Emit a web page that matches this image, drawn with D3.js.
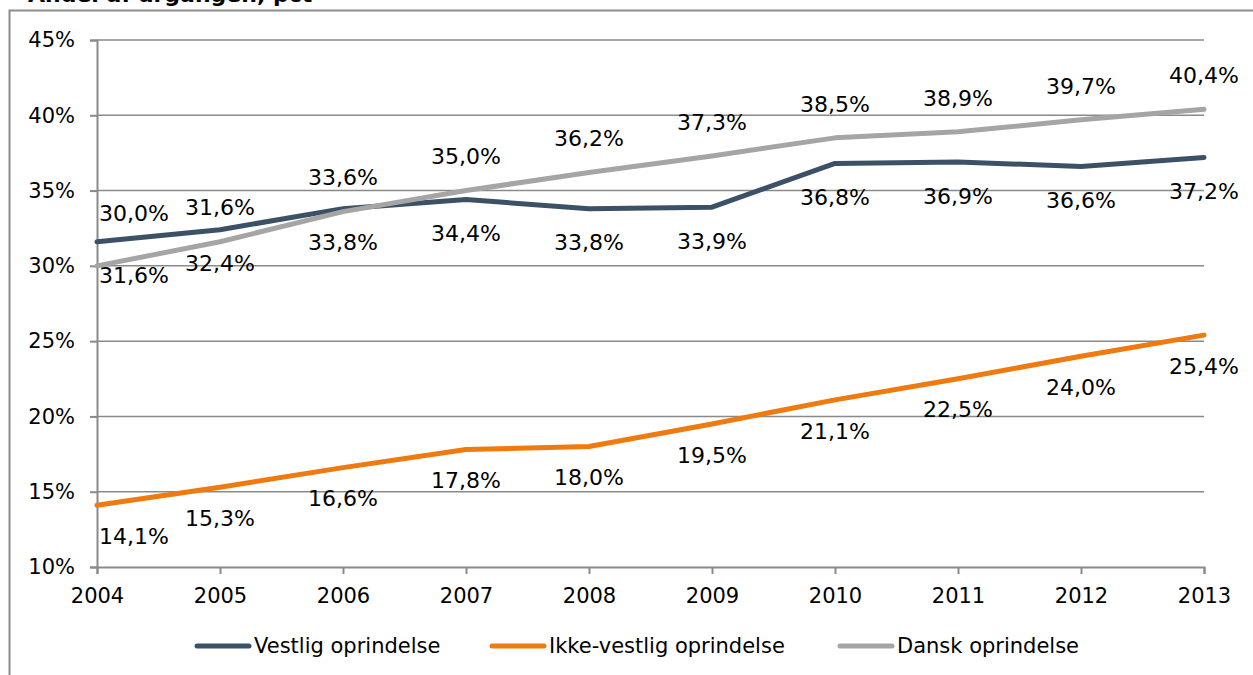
<!DOCTYPE html>
<html>
<head>
<meta charset="utf-8">
<script src="https://cdn.jsdelivr.net/npm/d3@7"></script>
<style>
  body { margin: 0; background: #fff; }
  svg text { font-family: "DejaVu Sans", Verdana, sans-serif; fill: #000; }
</style>
</head>
<body>
<div id="myViz"></div>
<script>
// data
var years = [2004, 2005, 2006, 2007, 2008, 2009, 2010, 2011, 2012, 2013];
var vestlig = [31.6, 32.4, 33.8, 34.4, 33.8, 33.9, 36.8, 36.9, 36.6, 37.2];
var ikkeVestlig = [14.1, 15.3, 16.6, 17.8, 18.0, 19.5, 21.1, 22.5, 24.0, 25.4];
var dansk = [30.0, 31.6, 33.6, 35.0, 36.2, 37.3, 38.5, 38.9, 39.7, 40.4];
var yTicks = [10, 15, 20, 25, 30, 35, 40, 45];
var seriesNames = ["Vestlig oprindelse", "Ikke-vestlig oprindelse", "Dansk oprindelse"];
var titleText = "Andel af årgangen, pct";

var width = 1253, height = 675;
var margin = {top: 40, right: 49, bottom: 108, left: 97};

var svg = d3.select("#myViz")
  .append("svg")
  .attr("width", width)
  .attr("height", height);

// outer frame (cut off at right/bottom like the picture)
svg.append("rect")
  .attr("x", 9.5).attr("y", 10.5)
  .attr("width", 1260).attr("height", 700)
  .attr("fill", "none")
  .attr("stroke", "#8c8c8c")
  .attr("stroke-width", 2);

// title, mostly cut off at the top like in the picture
svg.append("text")
  .attr("x", 28).attr("y", 2)
  .style("font-weight", "bold")
  .style("font-size", "22px")
  .text(titleText);

var x = d3.scaleLinear()
  .domain([years[0], years[years.length - 1]])
  .range([margin.left, width - margin.right]);

var y = d3.scaleLinear()
  .domain([10, 45])
  .range([height - margin.bottom, margin.top]);

// gridlines
svg.append("g")
  .selectAll("line")
  .data(yTicks.slice(1))
  .enter().append("line")
  .attr("x1", margin.left).attr("x2", width - margin.right)
  .attr("y1", d => y(d)).attr("y2", d => y(d))
  .attr("stroke", "#8a8a8a")
  .attr("stroke-width", 1.5);

// y axis
var yAxis = svg.append("g")
  .attr("transform", `translate(${margin.left},0)`)
  .call(d3.axisLeft(y).tickValues(yTicks).tickSize(7).tickPadding(15)
    .tickFormat(d => d + "%"));

// x axis
var xAxis = svg.append("g")
  .attr("transform", `translate(0,${height - margin.bottom})`)
  .call(d3.axisBottom(x).tickValues(years).tickSize(7).tickPadding(14)
    .tickFormat(d3.format("d")));

[yAxis, xAxis].forEach(a => {
  a.select(".domain").attr("stroke", "#8a8a8a").attr("stroke-width", 2);
  a.selectAll(".tick line").attr("stroke", "#8a8a8a").attr("stroke-width", 2);
  a.selectAll("text").style("font-size", "21px").attr("fill", "#000");
});
xAxis.selectAll("text").attr("dy", "0.71em");

var series = [
  {name: seriesNames[0], values: vestlig, color: "#3c5066", offset: 34},
  {name: seriesNames[1], values: ikkeVestlig, color: "#ee7a10", offset: 31},
  {name: seriesNames[2], values: dansk, color: "#a5a5a5", offset: -34}
];

var line = d3.line()
  .x((d, i) => x(years[i]))
  .y(d => y(d));

series.forEach(s => {
  svg.append("path")
    .datum(s.values)
    .attr("d", line)
    .attr("fill", "none")
    .attr("stroke", s.color)
    .attr("stroke-width", 5)
    .attr("stroke-linejoin", "round")
    .attr("stroke-linecap", "round");
});

var fmt = v => d3.format(".1f")(v).replace(".", ",") + "%";

// data labels (kept inside the plot on the left, nudged up where the first two collide)
series.forEach(s => {
  svg.append("g")
    .selectAll("text")
    .data(s.values)
    .enter().append("text")
    .attr("x", (d, i) => Math.max(x(years[i]), margin.left + 37))
    .attr("y", (d, i) => {
      var ly = y(d) + s.offset;
      if (i === 0 && s.offset < 0) ly = Math.min(ly, y(vestlig[0]) - 28);
      return ly;
    })
    .attr("text-anchor", "middle")
    .attr("dy", "0.35em")
    .style("font-size", "22px")
    .text(fmt);
});

// legend
var legendPos = [197, 492, 840];
var legend = svg.append("g");
series.forEach((s, i) => {
  legend.append("line")
    .attr("x1", legendPos[i]).attr("x2", legendPos[i] + 52)
    .attr("y1", 646).attr("y2", 646)
    .attr("stroke", s.color)
    .attr("stroke-width", 5)
    .attr("stroke-linecap", "round");
  legend.append("text")
    .attr("x", legendPos[i] + 57)
    .attr("y", 646)
    .attr("dy", "0.35em")
    .style("font-size", "21px")
    .text(s.name);
});
</script>
</body>
</html>
